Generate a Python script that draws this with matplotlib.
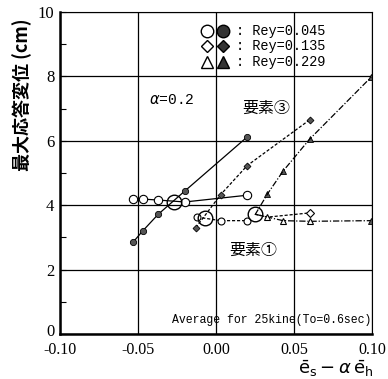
import matplotlib
matplotlib.use("Agg")
import matplotlib.pyplot as plt
from matplotlib.transforms import ScaledTranslation

plt.rcParams['font.family'] = ['Noto Sans CJK JP', 'DejaVu Sans']

# --- data ---
# element 3 (upper group)
e3_circ_x = [-0.053, -0.047, -0.037, -0.020, 0.020]
e3_circ_open_y = [4.19, 4.19, 4.16, 4.10, 4.31]
e3_circ_fill_y = [2.86, 3.20, 3.72, 4.44, 6.12]
e3_diam_x = [-0.013, 0.003, 0.020, 0.060]
e3_diam_y = [3.30, 4.33, 5.23, 6.65]
e3_tri_x = [0.025, 0.033, 0.043, 0.060, 0.0995]
e3_tri_y = [3.70, 4.35, 5.06, 6.05, 7.98]

# element 1 (lower group)
e1_circ_x = [-0.012, 0.003, 0.020]
e1_circ_y = [3.63, 3.52, 3.52]
e1_diam_x = [0.033, 0.060]
e1_diam_y = [3.63, 3.76]
e1_tri_x = [0.033, 0.043, 0.060, 0.0995]
e1_tri_y = [3.63, 3.52, 3.50, 3.52]

# averages (big circles)
avg_x = [-0.027, -0.007, 0.025]
avg_y = [4.10, 3.60, 3.72]

rey_labels = ["Rey=0.045", "Rey=0.135", "Rey=0.229"]

fig = plt.figure(figsize=(3.88, 3.79), dpi=100)
ax = fig.add_axes([60/388, 1-334/379, 312/388, 322/379])

grey = "#555555"
ms = 4.5

# element 3
ax.plot(e3_circ_x, e3_circ_open_y, "-", color="k", lw=0.9,
        marker="o", ms=6, mfc="white", mec="k", mew=0.8)
ax.plot(e3_circ_x, e3_circ_fill_y, "-", color="k", lw=0.9,
        marker="o", ms=ms, mfc=grey, mec="k", mew=0.6)
ax.plot(e3_diam_x, e3_diam_y, "--", color="k", lw=0.9, dashes=(2.5, 1.5),
        marker="D", ms=3.5, mfc=grey, mec="k", mew=0.6)
ax.plot(e3_tri_x[1:], e3_tri_y[1:], ls="none",
        marker="^", ms=4, mfc=grey, mec="k", mew=0.6)
ax.plot(e3_tri_x, e3_tri_y, "-.", color="k", lw=0.9, dashes=(5, 1.5, 1, 1.5))

# element 1
ax.plot(e1_circ_x, e1_circ_y, "--", color="k", lw=0.9, dashes=(2.5, 1.5),
        marker="o", ms=5, mfc="white", mec="k", mew=0.8)
ax.plot([avg_x[2]] + e1_diam_x, [avg_y[2]] + e1_diam_y, "--", color="k", lw=0.9,
        dashes=(2.5, 1.5))
ax.plot(e1_diam_x[1:], e1_diam_y[1:], ls="none",
        marker="D", ms=4, mfc="white", mec="k", mew=0.8)
ax.plot([avg_x[2]] + e1_tri_x, [avg_y[2]] + e1_tri_y, "-.", color="k", lw=0.9,
        dashes=(5, 1.5, 1, 1.5))
ax.plot(e1_tri_x[:-1], e1_tri_y[:-1], ls="none",
        marker="^", ms=4.5, mfc="white", mec="k", mew=0.8)
ax.plot(e1_tri_x[-1:], e1_tri_y[-1:], ls="none",
        marker="^", ms=4.5, mfc=grey, mec="k", mew=0.6)

# averages
ax.plot(avg_x, avg_y, ls="none", marker="o", ms=10.5, mfc="none", mec="k", mew=1.0)

# axes, grid
ax.set_xlim(-0.10, 0.10)
ax.set_ylim(0, 10)
ax.set_xticks([-0.10, -0.05, 0.00, 0.05, 0.10])
ax.set_xticklabels(["-0.10", "-0.05", "0.00", "0.05", "0.10"],
                   family="Liberation Serif", fontsize=11.5)
ax.set_yticks([0, 2, 4, 6, 8, 10])
ax.set_yticklabels(["0", "2", "4", "6", "8", "10"],
                   family="Liberation Serif", fontsize=12)
ax.set_yticks([1, 3, 5, 7, 9], minor=True)
ax.tick_params(axis="x", length=0, pad=5.5)
ax.tick_params(axis="y", which="both", direction="in", length=4, width=0.8,
               pad=4)
ax.grid(True, which="major", color="k", lw=0.9)
ax.set_axisbelow(True)
for s in ["left", "bottom"]:
    ax.spines[s].set_linewidth(1.8)
for s in ["top", "right"]:
    ax.spines[s].set_linewidth(0.8)

# nudge the "0" label up so it clears "-0.10"
lab0 = ax.get_yticklabels()[0]
lab0.set_transform(lab0.get_transform() + ScaledTranslation(0, 4/100, fig.dpi_scale_trans))

# legend drawn as text and markers
mono = "Liberation Mono"
leg_y = [0.941, 0.894, 0.845]
open_mk = ["o", "D", "^"]
leg_ms = [9, 6.5, 8]
for i, lab in enumerate(rey_labels):
    ax.plot([0.471], [leg_y[i]], transform=ax.transAxes, ls="none",
            marker=open_mk[i], ms=leg_ms[i], mfc="white", mec="k", mew=1.0,
            clip_on=False)
    ax.plot([0.522], [leg_y[i]], transform=ax.transAxes, ls="none",
            marker=open_mk[i], ms=leg_ms[i], mfc="#333333", mec="k", mew=1.0,
            clip_on=False)
    ax.text(0.565, leg_y[i], ": " + lab, transform=ax.transAxes,
            family=mono, fontsize=9.8, va="center", ha="left")

ax.text(-0.043, 7.27, r"$\alpha$=0.2", family=mono, fontsize=10.5,
        va="center", ha="left")
ax.text(0.032, 7.02, "要素③", fontsize=11.5, va="center", ha="center")
ax.text(0.024, 2.61, "要素①", fontsize=11.5, va="center", ha="center")
ax.text(0.0995, 0.45, "Average for 25kine(To=0.6sec)", family=mono,
        fontsize=8.3, va="center", ha="right")

fig.text(22/388, 1-95/379, "最大応答変位 (cm)", rotation=90, fontsize=13,
         weight="bold", va="center", ha="center")
fig.text(373/388, 1-358.5/379,
         r"$\bar{\mathrm{e}}_{\mathrm{s}}-\alpha\,\bar{\mathrm{e}}_{\mathrm{h}}$",
         fontsize=13, va="top", ha="right")

fig.savefig("out.png", dpi=100)
